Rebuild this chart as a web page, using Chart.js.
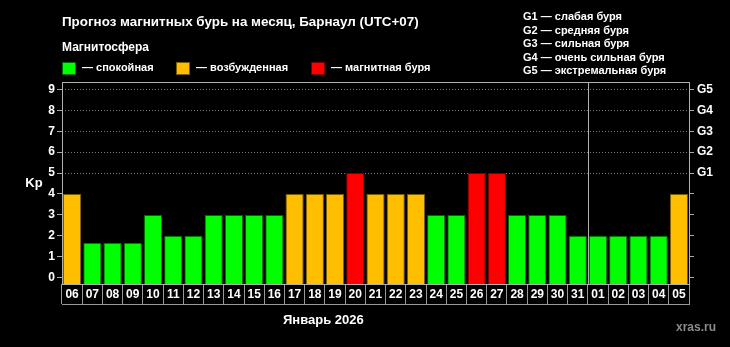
<!DOCTYPE html>
<html><head><meta charset="utf-8">
<script src="https://cdn.jsdelivr.net/npm/chart.js@4/dist/chart.umd.min.js"></script>
<style>
html,body{margin:0;padding:0;background:#000;}
#wrap{position:relative;width:730px;height:347px;background:#000;overflow:hidden;font-family:'Liberation Sans',Arial,sans-serif;font-weight:bold;color:#fff;}
#c{position:absolute;left:0;top:0;}
.t{position:absolute;white-space:nowrap;}
.sq{position:absolute;width:13px;height:12px;}
</style></head><body>
<div id="wrap">
<canvas id="c" width="730" height="347"></canvas>
<div class="t" id="title" style="left:62px;top:15px;font-size:13.4px;line-height:14px;"></div>
<div class="t" id="sub" style="left:62px;top:41px;font-size:12px;line-height:12px;"></div>
<div id="legend"></div>
<div class="t" id="glist" style="left:523px;top:10px;font-size:11px;line-height:13.5px;"></div>
<div class="t" id="month" style="left:283px;top:313px;font-size:13px;line-height:13px;"></div>
<div class="t" id="site" style="left:676px;top:321px;font-size:12px;line-height:12px;color:#8a8a8a;"></div>
</div>
<script>
const titleText = 'Прогноз магнитных бурь на месяц, Барнаул (UTC+07)';
const subText = 'Магнитосфера';
const legendLabels = ['— спокойная', '— возбужденная', '— магнитная буря'];
const gDescriptions = ['G1 — слабая буря','G2 — средняя буря','G3 — сильная буря','G4 — очень сильная буря','G5 — экстремальная буря'];
const monthText = 'Январь 2026';
const siteText = 'xras.ru';

const days = ['06','07','08','09','10','11','12','13','14','15','16','17','18','19','20','21','22','23','24','25','26','27','28','29','30','31','01','02','03','04','05'];
const kp = [4,1.67,1.67,1.67,3,2,2,3,3,3,3,4,4,4,5,4,4,4,3,3,5,5,3,3,3,2,2,2,2,2,4];
const yTicks = [0,1,2,3,4,5,6,7,8,9];
const gTicks = ['', '', '', '', '', 'G1', 'G2', 'G3', 'G4', 'G5'];

const fills = ['#00ff00', '#ffbf00', '#ff0000'];
const edges = ['#006a00', '#7a5a00', '#7a0000'];
function level(v){ return v >= 5 ? 2 : (v >= 4 ? 1 : 0); }

document.getElementById('title').textContent = titleText;
document.getElementById('sub').textContent = subText;
document.getElementById('glist').innerHTML = gDescriptions.map(s => '<div>' + s + '</div>').join('');
document.getElementById('month').textContent = monthText;
document.getElementById('site').textContent = siteText;
const legendPos = [62, 176, 311];
const leg = document.getElementById('legend');
legendLabels.forEach((s, i) => {
  const sq = document.createElement('div');
  sq.className = 'sq';
  sq.style.left = legendPos[i] + 'px'; sq.style.top = '62px';
  sq.style.background = fills[i]; sq.style.border = '1px solid ' + edges[i]; sq.style.boxSizing = 'border-box'; sq.style.width='14px'; sq.style.height='13px';
  leg.appendChild(sq);
  const t = document.createElement('div');
  t.className = 't';
  t.style.left = (legendPos[i] + 20) + 'px'; t.style.top = '62px';
  t.style.fontSize = '11px'; t.style.lineHeight = '11px';
  t.textContent = s;
  leg.appendChild(t);
});

const Y_MIN = -0.3, Y_MAX = 9.35;
const monthStart = days.indexOf('01');

const framePlugin = {
  id: 'frame',
  afterDraw(chart) {
    const ctx = chart.ctx, a = chart.chartArea;
    const xs = chart.scales.x, ys = chart.scales.y;
    ctx.save();
    ctx.strokeStyle = '#b0b0b0';
    ctx.lineWidth = 1;
    ctx.strokeRect(Math.round(a.left) + 0.5, Math.round(a.top) + 0.5, Math.round(a.right - a.left), Math.round(a.bottom - a.top));
    const xm = Math.round((xs.getPixelForValue(monthStart - 1) + xs.getPixelForValue(monthStart)) / 2) + 0.5;
    ctx.beginPath(); ctx.moveTo(xm, a.top); ctx.lineTo(xm, a.bottom); ctx.stroke();
    const yb = Math.round(a.bottom + xs.options.grid.tickLength) + 0.5;
    ctx.strokeStyle = '#999';
    ctx.beginPath(); ctx.moveTo(a.left, yb); ctx.lineTo(a.right + 1, yb); ctx.stroke();
    ctx.fillStyle = '#fff';
    ctx.font = 'bold 13px "Liberation Sans", Arial, sans-serif';
    ctx.textAlign = 'center'; ctx.textBaseline = 'middle';
    ctx.fillText('Kp', 34, ys.getPixelForValue(4.5));
    ctx.restore();
  }
};

Chart.defaults.font.family = '"Liberation Sans", Arial, sans-serif';
Chart.defaults.font.weight = 'bold';

new Chart(document.getElementById('c'), {
  type: 'bar',
  data: {
    labels: days,
    datasets: [{
      data: kp,
      base: Y_MIN,
      backgroundColor: kp.map(v => fills[level(v)]),
      borderColor: kp.map(v => edges[level(v)]),
      borderWidth: 1,
      barPercentage: 0.9,
      categoryPercentage: 1.0
    }]
  },
  options: {
    responsive: false,
    animation: false,
    devicePixelRatio: 1,
    layout: { padding: { top: 82, left: 0, right: 0, bottom: 0 } },
    plugins: { legend: { display: false }, tooltip: { enabled: false } },
    scales: {
      x: {
        offset: true,
        grid: { offset: true, drawOnChartArea: false, color: '#999', tickLength: 20, tickColor: '#999' },
        border: { display: false },
        ticks: { color: '#fff', font: { size: 12, weight: 'bold' }, padding: -17, maxRotation: 0, autoSkip: false },
        afterFit(s) { s.height = 63; }
      },
      y: {
        position: 'left',
        min: Y_MIN, max: Y_MAX,
        afterBuildTicks(s) { s.ticks = yTicks.map(v => ({ value: v })); },
        grid: {
          color: c => (c.tick && c.tick.value >= 5) ? '#7a7a7a' : 'rgba(0,0,0,0)',
          tickColor: '#aaa', tickLength: 5, lineWidth: 1
        },
        border: { display: false, dash: [1, 2] },
        ticks: { color: '#fff', font: { size: 12, weight: 'bold' }, padding: 2 },
        afterFit(s) { s.width = 62; }
      },
      y2: {
        position: 'right',
        min: Y_MIN, max: Y_MAX,
        afterBuildTicks(s) { s.ticks = yTicks.map(v => ({ value: v })); },
        grid: { drawOnChartArea: false, tickColor: '#aaa', tickLength: 5 },
        border: { display: false },
        ticks: { color: '#fff', font: { size: 12, weight: 'bold' }, padding: 3, callback: (v) => gTicks[v] || '' },
        afterFit(s) { s.width = 41; }
      }
    }
  },
  plugins: [framePlugin]
});
</script>
</body></html>
